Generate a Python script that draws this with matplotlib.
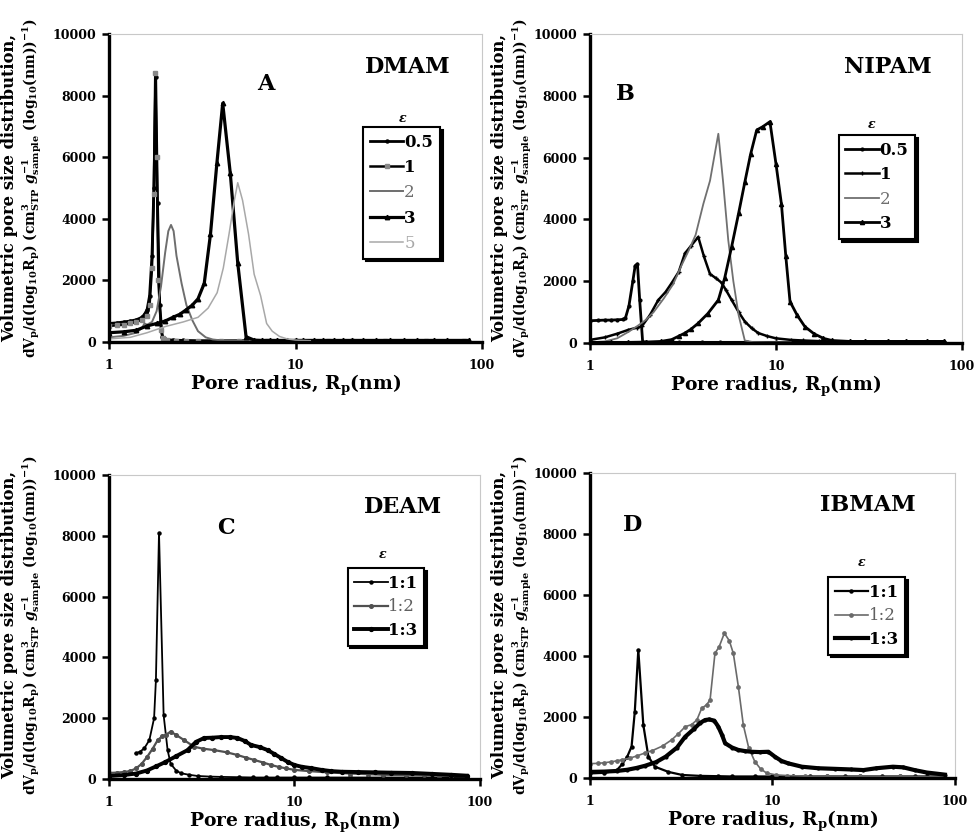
import matplotlib
matplotlib.use("Agg")
import matplotlib.pyplot as plt

plt.rcParams['font.family'] = ['DejaVu Serif']
plt.rcParams['font.weight'] = 'bold'
plt.rcParams['mathtext.fontset'] = 'custom'
plt.rcParams['mathtext.rm'] = 'DejaVu Serif:bold'
plt.rcParams['mathtext.it'] = 'DejaVu Serif:italic:bold'
plt.rcParams['mathtext.bf'] = 'DejaVu Serif:bold'

# ---------------- Panel A: DMAM ----------------
a_x05 = [1.0,1.1,1.2,1.3,1.4,1.5,1.55,1.6,1.65,1.7,1.74,1.78,1.82,1.87,1.93,2.0,2.2,2.5,3,3.5,4,5,6,7,8,10,12,15,20,25,30,40,50,60,80]
a_y05 = [600,620,650,680,720,800,900,1050,1500,2800,5000,8600,4500,1200,150,80,60,50,40,40,40,40,40,40,40,40,40,40,40,40,40,40,40,40,40]
a_x1 = [1.0,1.1,1.2,1.3,1.4,1.5,1.6,1.65,1.7,1.74,1.77,1.8,1.84,1.9,1.95,2.05,2.3,2.6,3,4,5,7,10,15,20,30,50,80]
a_y1 = [520,540,560,600,650,720,850,1200,2400,4800,8720,6000,2000,400,120,60,40,30,30,30,30,30,30,30,30,30,30,30]
a_x2 = [1.0,1.2,1.4,1.5,1.55,1.6,1.7,1.8,1.9,2.0,2.08,2.15,2.22,2.3,2.45,2.6,2.8,3.0,3.3,3.6,4,5,7,10]
a_y2 = [150,200,300,450,600,560,650,1000,1800,2900,3600,3800,3600,2800,1900,1200,700,350,150,80,50,40,30,30]
a_x3 = [1.0,1.2,1.4,1.6,1.8,2.0,2.2,2.4,2.6,2.8,3.0,3.24,3.5,3.79,4.07,4.47,4.9,5.43,6.0,6.6,7.3,8.0,9.0,10,11,12.5,14,16,18,20,23,27,32,38,45,55,65,85]
a_y3 = [300,330,380,520,600,680,800,900,1050,1200,1400,1900,3500,5820,7750,5470,2560,170,60,50,50,50,50,50,50,50,50,50,50,50,50,50,50,50,50,50,50,50]
a_x5 = [1.0,1.3,1.6,2.0,2.5,3.0,3.4,3.8,4.1,4.4,4.7,4.9,5.2,5.6,6.0,6.5,7.0,7.5,8.2,9.0,10,12]
a_y5 = [100,150,300,500,650,800,1100,1600,2400,3500,4600,5170,4600,3500,2200,1500,600,350,180,100,60,40]

# ---------------- Panel B: NIPAM ----------------
b_x05 = [1.0,1.1,1.2,1.3,1.4,1.5,1.55,1.62,1.7,1.75,1.8,1.85,1.92,2.0,2.5,3,4,5,7,10,15,20,30,50,80]
b_y05 = [720,730,740,740,750,760,800,1200,2000,2500,2560,1400,30,20,20,20,20,20,20,20,20,20,20,20,20]
b_x1 = [1.0,1.2,1.4,1.6,1.8,1.9,2.1,2.33,2.55,2.75,3.0,3.24,3.5,3.82,4.1,4.42,4.75,5.1,5.4,5.78,6.3,6.81,7.4,8.04,9,10,12,14,17,20,25,30,40,50,65,80]
b_y1 = [100,180,300,420,500,540,900,1390,1650,1940,2300,2900,3150,3430,2800,2230,2100,1950,1700,1390,1000,690,480,320,220,150,100,80,60,50,50,50,50,50,50,50]
b_x2 = [1.0,1.2,1.4,1.6,1.8,2.0,2.2,2.5,2.8,3.1,3.4,3.7,4.07,4.42,4.9,5.2,5.54,5.9,6.3,6.8,7.5,9,12]
b_y2 = [20,50,150,350,550,750,1000,1450,1900,2500,3000,3500,4500,5250,6770,5200,3330,2000,900,80,30,20,20]
b_x3 = [1.0,1.3,1.6,2.0,2.4,2.75,3.0,3.24,3.5,3.82,4.3,4.9,5.3,5.78,6.3,6.81,7.3,7.88,8.5,9.28,10.0,10.7,11.3,11.9,13,14.3,16,18,20,25,30,40,50,65,80]
b_y3 = [20,20,20,30,50,110,220,320,450,640,950,1390,2100,3120,4200,5220,6100,6890,7000,7160,5800,4500,2800,1340,900,530,300,150,80,50,50,50,50,50,50]

# ---------------- Panel C: DEAM ----------------
c_x11 = [1.39,1.47,1.55,1.65,1.75,1.79,1.86,1.97,2.07,2.15,2.3,2.44,2.7,3.0,3.5,4,5,6,7,8,10,12,15,20,25,30,40,50,60,70,85]
c_y11 = [840,900,1010,1280,2000,3250,8100,2100,950,500,280,190,140,100,80,70,60,50,50,50,50,50,50,50,50,50,50,50,50,50,50]
c_x12 = [1.0,1.1,1.2,1.3,1.4,1.5,1.61,1.72,1.83,1.93,2.02,2.15,2.3,2.54,2.88,3.2,3.7,4.3,4.92,5.5,6.08,6.8,7.48,8.2,9.0,10,12,15,20,25,30,40,50,60,70,85]
c_y12 = [200,210,230,260,350,500,740,1000,1280,1400,1450,1560,1450,1280,1060,1000,950,880,790,700,625,540,460,400,350,300,260,220,180,160,140,130,120,110,100,90]
c_x13 = [1.0,1.2,1.4,1.6,1.8,2.0,2.3,2.65,2.94,3.26,3.6,4.01,4.5,4.92,5.4,5.83,6.5,7.17,7.8,8.47,9.2,10,11,12.3,14,15.8,18,22,27,33,43,55,70,85]
c_y13 = [100,130,180,280,420,550,750,950,1220,1350,1360,1380,1380,1350,1250,1120,1050,950,820,690,560,460,400,360,300,260,240,230,220,210,200,170,140,110]

# ---------------- Panel D: IBMAM ----------------
d_x11 = [1.0,1.2,1.4,1.5,1.6,1.69,1.76,1.84,1.96,2.09,2.27,2.69,3.2,4,5,6,8,10,13,16,20,25,30,40,50,60,70,85]
d_y11 = [150,170,250,450,700,1030,2170,4200,1740,700,370,200,100,70,60,50,50,50,50,50,50,50,50,50,50,50,50,50]
d_x12 = [1.0,1.1,1.2,1.3,1.4,1.5,1.65,1.8,2.0,2.2,2.5,2.8,3.05,3.32,3.6,3.85,4.09,4.35,4.55,4.84,5.1,5.45,5.8,6.1,6.5,6.92,7.4,8.0,8.6,9.3,10.5,12,15,20,30,50,85]
d_y12 = [470,480,500,530,560,600,650,720,820,900,1050,1250,1450,1680,1750,1900,2280,2400,2560,4090,4300,4750,4500,4090,3000,1740,1000,540,300,160,100,80,60,50,50,50,50]
d_x13 = [1.0,1.2,1.4,1.6,1.8,2.0,2.3,2.6,3.0,3.32,3.7,4.0,4.27,4.5,4.8,5.05,5.3,5.5,6.0,6.5,7.1,7.7,8.5,9.5,10.3,11.2,12.2,14.5,17.8,22,27,31.5,37,45.7,52,60,70,88]
d_y13 = [200,210,230,270,330,400,520,700,1000,1350,1600,1800,1900,1920,1880,1680,1400,1140,1000,920,880,860,850,860,700,560,480,370,320,300,280,260,320,370,350,260,180,110]

x_ticks = [1, 10, 100]
x_ticklabels = ['1', '10', '100']
y_ticks = [0, 2000, 4000, 6000, 8000, 10000]

labels_A = ['0.5', '1', '2', '3', '5']
labels_B = ['0.5', '1', '2', '3']
labels_CD = ['1:1', '1:2', '1:3']

ylabel_line1 = "Volumetric pore size distribution,"
ylabel_line2 = (r"dV$_\mathrm{p}$/d(log$_\mathrm{10}$R$_\mathrm{p}$) (cm$_\mathrm{STP}^\mathrm{3}$ "
                r"$\mathit{g}_\mathrm{sample}^\mathrm{-1}$ (log$_\mathrm{10}$(nm))$^\mathrm{-1}$)")
xlabel_txt = r"Pore radius, R$_\mathrm{p}$(nm)"

W, H = 975, 840
fig = plt.figure(figsize=(9.75, 8.4), dpi=100)

axA = fig.add_axes([0.1118, 0.5929, 0.3826, 0.3667])
axB = fig.add_axes([0.6051, 0.5917, 0.3815, 0.3679])
axC = fig.add_axes([0.1118, 0.0726, 0.3805, 0.3619])
axD = fig.add_axes([0.6051, 0.0738, 0.3744, 0.3631])


def style_axes(ax, x1px, x2px, ypx):
    ax.set_xscale('log')
    ax.set_xlim(1, 100)
    ax.set_ylim(0, 10000)
    ax.set_xticks(x_ticks)
    ax.set_xticklabels(x_ticklabels)
    ax.xaxis.set_minor_locator(matplotlib.ticker.NullLocator())
    ax.set_yticks(y_ticks)
    ax.set_yticklabels([str(v) for v in y_ticks])
    for s in ['left', 'bottom']:
        ax.spines[s].set_linewidth(2.4)
        ax.spines[s].set_color('black')
    for s in ['top', 'right']:
        ax.spines[s].set_linewidth(0.8)
        ax.spines[s].set_color('#c8c8c8')
    ax.tick_params(axis='both', which='major', direction='out', length=5, width=1.8,
                   labelsize=9, pad=4)
    ax.tick_params(axis='x', pad=7)
    ax.tick_params(top=False, right=False)
    for t in ax.get_xticklabels() + ax.get_yticklabels():
        t.set_fontweight('bold')
    ax.set_xlabel(xlabel_txt, fontsize=13.5, fontweight='bold', labelpad=1)
    fig.text(x1px / W, 1 - ypx / H, ylabel_line1, rotation=90, ha='center', va='center',
             rotation_mode='anchor', fontsize=11.8, fontweight='bold')
    fig.text(x2px / W, 1 - ypx / H, ylabel_line2, rotation=90, ha='center', va='center',
             rotation_mode='anchor', fontsize=10.0, fontweight='bold')


def add_legend(ax, handles, labels, colors, weights, x0, ytop, eps_xy, fs=12, ls=0.45):
    leg = ax.legend(handles, labels, loc='upper left', bbox_to_anchor=(x0, ytop),
                    borderaxespad=0, frameon=True, fancybox=False, edgecolor='black',
                    handlelength=2.0, handletextpad=0.05, borderpad=0.4,
                    labelspacing=ls, prop={'family': 'DejaVu Serif', 'size': fs, 'weight': 'bold'},
                    shadow={'color': 'black', 'alpha': 1.0})
    leg.get_frame().set_linewidth(1.5)
    for t, c, w in zip(leg.get_texts(), colors, weights):
        t.set_color(c)
        t.set_fontweight(w)
    ax.text(eps_xy[0], eps_xy[1], r'$\mathit{\varepsilon}$', transform=ax.transAxes,
            ha='center', va='center', fontsize=9)
    return leg


# ---- A ----
style_axes(axA, 10, 32, 188)
hA05, = axA.plot(a_x05, a_y05, color='black', lw=2.0, marker='o', ms=2.2)
hA1, = axA.plot(a_x1, a_y1, color='black', lw=1.8, marker='s', ms=2.2, mfc='#888888', mec='#888888')
hA2, = axA.plot(a_x2, a_y2, color='#6e6e6e', lw=1.4)
hA3, = axA.plot(a_x3, a_y3, color='black', lw=2.3, marker='^', ms=3.2)
hA5, = axA.plot(a_x5, a_y5, color='#a8a8a8', lw=1.1)
add_legend(axA, [hA05, hA1, hA2, hA3, hA5], labels_A,
           ['black', 'black', '#6e6e6e', 'black', '#a8a8a8'],
           ['bold', 'bold', 'normal', 'bold', 'normal'], 0.682, 0.698, (0.786, 0.727), ls=0.5)
axA.text(0.42, 0.838, 'A', transform=axA.transAxes, ha='center', va='center', fontsize=16, fontweight='bold')
axA.text(0.802, 0.893, 'DMAM', transform=axA.transAxes, ha='center', va='center', fontsize=16, fontweight='bold')

# ---- B ----
style_axes(axB, 500, 522, 188)
hB05, = axB.plot(b_x05, b_y05, color='black', lw=2.0, marker='o', ms=2.0)
hB1, = axB.plot(b_x1, b_y1, color='black', lw=1.8, marker='+', ms=3.5, mew=1.0)
hB2, = axB.plot(b_x2, b_y2, color='#707070', lw=1.3)
hB3, = axB.plot(b_x3, b_y3, color='black', lw=2.0, marker='^', ms=3.0)
add_legend(axB, [hB05, hB1, hB2, hB3], labels_B,
           ['black', 'black', '#707070', 'black'],
           ['bold', 'bold', 'normal', 'bold'], 0.669, 0.673, (0.758, 0.706), ls=0.45)
axB.text(0.094, 0.806, 'B', transform=axB.transAxes, ha='center', va='center', fontsize=16, fontweight='bold')
axB.text(0.801, 0.893, 'NIPAM', transform=axB.transAxes, ha='center', va='center', fontsize=16, fontweight='bold')

# ---- C ----
style_axes(axC, 10, 32, 625)
hC11, = axC.plot(c_x11, c_y11, color='black', lw=1.3, marker='o', ms=2.2)
hC12, = axC.plot(c_x12, c_y12, color='#505050', lw=1.6, marker='o', ms=2.6)
hC13, = axC.plot(c_x13, c_y13, color='black', lw=2.8, marker='o', ms=2.8)
add_legend(axC, [hC11, hC12, hC13], labels_CD,
           ['black', '#606060', 'black'], ['bold', 'normal', 'bold'],
           0.643, 0.694, (0.738, 0.737), ls=0.4)
axC.text(0.316, 0.826, 'C', transform=axC.transAxes, ha='center', va='center', fontsize=16, fontweight='bold')
axC.text(0.792, 0.895, 'DEAM', transform=axC.transAxes, ha='center', va='center', fontsize=16, fontweight='bold')

# ---- D ----
style_axes(axD, 500, 522, 625)
hD11, = axD.plot(d_x11, d_y11, color='black', lw=1.6, marker='o', ms=2.2)
hD12, = axD.plot(d_x12, d_y12, color='#6a6a6a', lw=1.2, marker='o', ms=2.4)
hD13, = axD.plot(d_x13, d_y13, color='black', lw=3.0, marker='o', ms=2.0)
add_legend(axD, [hD11, hD12, hD13], labels_CD,
           ['black', '#606060', 'black'], ['bold', 'normal', 'bold'],
           0.652, 0.659, (0.745, 0.705), ls=0.4)
axD.text(0.118, 0.829, 'D', transform=axD.transAxes, ha='center', va='center', fontsize=16, fontweight='bold')
axD.text(0.762, 0.895, 'IBMAM', transform=axD.transAxes, ha='center', va='center', fontsize=16, fontweight='bold')

fig.savefig('out.png', dpi=100)
